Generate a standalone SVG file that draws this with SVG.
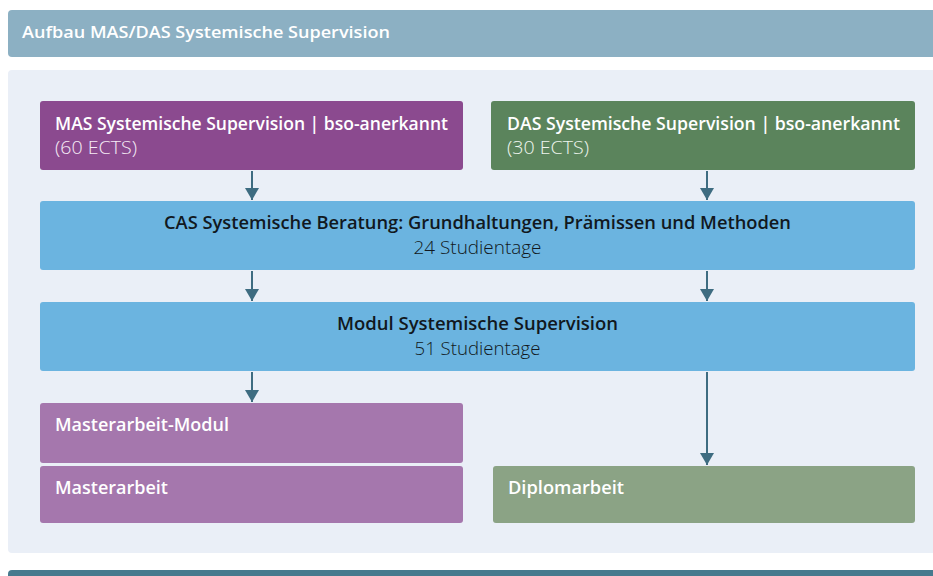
<svg xmlns="http://www.w3.org/2000/svg" width="933" height="576" viewBox="0 0 933 576">
<style>
.t{font-family:"Open Sans","Noto Sans","DejaVu Sans",sans-serif}
.b{font-weight:600;font-size:18px}
.l{font-weight:300;font-size:18px}
.w{fill:#ffffff}
.d{fill:#111820}
.p{fill:#f6ecf6}
.g{fill:#eef5ee}
.con line{stroke:#3e6c81;stroke-width:2}
</style>
<defs>
<marker id="ah" viewBox="0 0 12 16" refX="12" refY="8" markerWidth="12" markerHeight="16" markerUnits="userSpaceOnUse" orient="auto">
<path d="M0,1 L12,8 L0,15 Z" fill="#3e6c81"/>
</marker>
</defs>
<rect x="0" y="0" width="933" height="576" fill="#ffffff"/>
<g id="header">
<rect x="8" y="10" width="935" height="47" rx="4" fill="#8cb0c3"/>
<text class="t w" x="22" y="38" font-size="16.5" font-weight="600" textLength="368" lengthAdjust="spacingAndGlyphs">Aufbau MAS/DAS Systemische Supervision</text>
</g>
<rect id="panel" x="8" y="70" width="935" height="483" rx="4" fill="#eaeff7"/>
<g class="con">
<line x1="252" y1="171" x2="252" y2="200" marker-end="url(#ah)"/>
<line x1="707" y1="171" x2="707" y2="200" marker-end="url(#ah)"/>
<line x1="252" y1="271" x2="252" y2="301" marker-end="url(#ah)"/>
<line x1="707" y1="271" x2="707" y2="301" marker-end="url(#ah)"/>
<line x1="252" y1="372" x2="252" y2="402" marker-end="url(#ah)"/>
<line x1="707" y1="372" x2="707" y2="465" marker-end="url(#ah)"/>
</g>
<g id="mas">
<rect x="40" y="101" width="423" height="69" rx="3" fill="#8b4a8f"/>
<text class="t b w" x="55" y="130" textLength="393" lengthAdjust="spacingAndGlyphs">MAS Systemische Supervision | bso-anerkannt</text>
<text class="t l p" x="55" y="154" textLength="82" lengthAdjust="spacingAndGlyphs">(60 ECTS)</text>
</g>
<g id="das">
<rect x="491" y="101" width="424" height="69" rx="3" fill="#5b845c"/>
<text class="t b w" x="507" y="130" textLength="393" lengthAdjust="spacingAndGlyphs">DAS Systemische Supervision | bso-anerkannt</text>
<text class="t l g" x="507" y="154" textLength="82" lengthAdjust="spacingAndGlyphs">(30 ECTS)</text>
</g>
<g id="cas">
<rect x="40" y="201" width="875" height="69" rx="3" fill="#6bb4e0"/>
<text class="t b d" x="477.5" y="229" text-anchor="middle" textLength="627" lengthAdjust="spacingAndGlyphs">CAS Systemische Beratung: Grundhaltungen, Prämissen und Methoden</text>
<text class="t l d" x="477.5" y="254" text-anchor="middle" textLength="128" lengthAdjust="spacingAndGlyphs">24 Studientage</text>
</g>
<g id="modul">
<rect x="40" y="302" width="875" height="69" rx="3" fill="#6bb4e0"/>
<text class="t b d" x="477.5" y="330" text-anchor="middle" textLength="281" lengthAdjust="spacingAndGlyphs">Modul Systemische Supervision</text>
<text class="t l d" x="477.5" y="355" text-anchor="middle" textLength="126" lengthAdjust="spacingAndGlyphs">51 Studientage</text>
</g>
<g id="masterarbeit-modul">
<rect x="40" y="403" width="423" height="60" rx="3" fill="#a577ad"/>
<text class="t b w" x="55" y="431" textLength="174" lengthAdjust="spacingAndGlyphs">Masterarbeit-Modul</text>
</g>
<g id="masterarbeit">
<rect x="40" y="466" width="423" height="57" rx="3" fill="#a577ad"/>
<text class="t b w" x="55" y="494" textLength="113" lengthAdjust="spacingAndGlyphs">Masterarbeit</text>
</g>
<g id="diplomarbeit">
<rect x="493" y="466" width="422" height="57" rx="3" fill="#8ba385"/>
<text class="t b w" x="508" y="494" textLength="116" lengthAdjust="spacingAndGlyphs">Diplomarbeit</text>
</g>
<rect id="footer" x="8" y="570" width="935" height="10" rx="4" fill="#467a8e"/>
</svg>
